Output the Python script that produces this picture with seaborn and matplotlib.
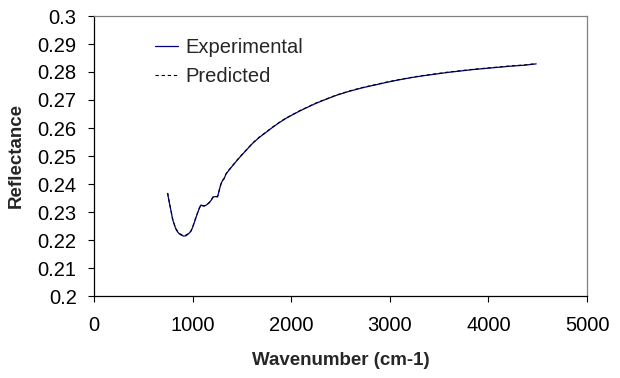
import matplotlib
matplotlib.use("Agg")
import matplotlib.pyplot as plt
import seaborn as sns
import pandas as pd

wavenumber = [747, 757, 769, 781, 797, 815, 832, 848, 865, 887, 909, 930, 950, 967, 984,
              1000, 1017, 1034, 1051, 1068, 1085, 1102, 1119, 1144, 1169, 1190, 1210, 1232,
              1253, 1265, 1277, 1287, 1300, 1321, 1338, 1370, 1405, 1450, 1490, 1550, 1608,
              1675, 1743, 1810, 1878, 1945, 2013, 2082, 2165, 2250, 2335, 2460, 2588, 2715,
              2841, 2968, 3094, 3220, 3347, 3474, 3600, 3727, 3853, 3980, 4106, 4232, 4359,
              4485]
experimental = [0.2366, 0.2346, 0.2325, 0.2304, 0.2274, 0.2254, 0.2238, 0.2229, 0.2222, 0.2217,
                0.2214, 0.2215, 0.2220, 0.2225, 0.2232, 0.2245, 0.2262, 0.2280, 0.2297, 0.2313,
                0.2325, 0.2322, 0.2321, 0.2326, 0.2333, 0.2343, 0.2354, 0.2355, 0.2354, 0.2370,
                0.2387, 0.2399, 0.2410, 0.2420, 0.2435, 0.2450, 0.2465, 0.2484, 0.2500, 0.2523,
                0.2545, 0.2566, 0.2584, 0.2602, 0.2619, 0.2634, 0.2647, 0.2660, 0.2674, 0.2688,
                0.2700, 0.2717, 0.2731, 0.2743, 0.2753, 0.2763, 0.2772, 0.2780, 0.2787, 0.2793,
                0.2799, 0.2804, 0.2809, 0.2813, 0.2817, 0.2821, 0.2824, 0.2829]
predicted = [0.2368, 0.2347, 0.2326, 0.2305, 0.2276, 0.2256, 0.2240, 0.2231, 0.2224, 0.2219,
             0.2216, 0.2217, 0.2221, 0.2226, 0.2233, 0.2246, 0.2263, 0.2281, 0.2298, 0.2314,
             0.2326, 0.2323, 0.2322, 0.2327, 0.2334, 0.2344, 0.2355, 0.2356, 0.2355, 0.2371,
             0.2388, 0.2400, 0.2411, 0.2421, 0.2436, 0.2451, 0.2466, 0.2485, 0.2501, 0.2524,
             0.2546, 0.2567, 0.2585, 0.2603, 0.2620, 0.2635, 0.2648, 0.2661, 0.2675, 0.2689,
             0.2701, 0.2718, 0.2732, 0.2744, 0.2754, 0.2764, 0.2773, 0.2781, 0.2788, 0.2794,
             0.2800, 0.2805, 0.2810, 0.2814, 0.2818, 0.2822, 0.2825, 0.2830]

x_ticks = [0, 1000, 2000, 3000, 4000, 5000]
y_ticks = [0.2, 0.21, 0.22, 0.23, 0.24, 0.25, 0.26, 0.27, 0.28, 0.29, 0.3]
y_tick_labels = ["0.2", "0.21", "0.22", "0.23", "0.24", "0.25", "0.26", "0.27", "0.28", "0.29", "0.3"]

sns.set_style("white")
plt.rcParams["font.family"] = ["Liberation Sans", "DejaVu Sans"]

df = pd.DataFrame({"Wavenumber": wavenumber, "Experimental": experimental, "Predicted": predicted})

fig = plt.figure(figsize=(6.2, 3.78), dpi=100)
ax = fig.add_axes([94 / 620, 1 - 296 / 378, (587 - 94) / 620, (296 - 16) / 378])

sns.lineplot(data=df, x="Wavenumber", y="Experimental", ax=ax, color="#000080",
             linewidth=0.9, label="Experimental")
sns.lineplot(data=df, x="Wavenumber", y="Predicted", ax=ax, color="black",
             linewidth=0.8, label="Predicted", linestyle=(0, (3, 2.5)))

ax.set_xlim(0, 5000)
ax.set_ylim(0.2, 0.3)
ax.set_xticks(x_ticks)
ax.set_xticklabels([str(v) for v in x_ticks])
ax.set_yticks(y_ticks)
ax.set_yticklabels(y_tick_labels)

ax.tick_params(axis="both", which="major", direction="out", length=4.5, width=0.8,
               color="black", labelsize=14.5, labelcolor="black", left=True, bottom=True)
ax.tick_params(axis="x", pad=10)
ax.tick_params(axis="y", pad=8)

for s in ["left", "bottom"]:
    ax.spines[s].set_color("black")
    ax.spines[s].set_linewidth(0.9)
for s in ["top", "right"]:
    ax.spines[s].set_color("#808080")
    ax.spines[s].set_linewidth(0.9)

ax.set_xlabel("Wavenumber (cm-1)", fontsize=13.5, fontweight="bold", labelpad=12)
ax.set_ylabel("Reflectance", fontsize=13.5, fontweight="bold", labelpad=9)

leg = ax.legend(loc="upper left", bbox_to_anchor=(155 / 620, 1 - 38 / 378),
                bbox_transform=fig.transFigure, frameon=False, fontsize=14.5,
                handlelength=1.15, handletextpad=0.35, labelspacing=0.5, borderpad=0,
                borderaxespad=0)

fig.savefig("out.png", dpi=100)
